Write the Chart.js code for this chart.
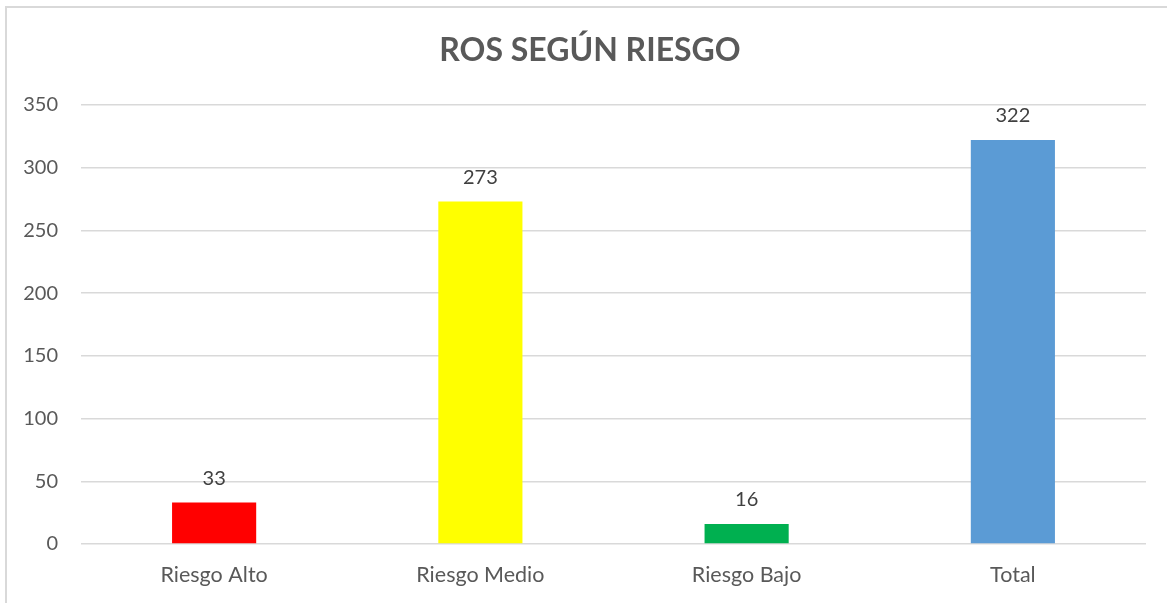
<!DOCTYPE html>
<html lang="es">
<head>
  <meta charset="UTF-8" />
  <title>ROS según riesgo</title>
  <script src="https://cdn.jsdelivr.net/npm/chart.js@4.4.0/dist/chart.umd.min.js"></script>
  <style>
    html, body { margin: 0; padding: 0; background: #fff; overflow: hidden; }
    .frame {
      position: absolute; left: 5px; top: 6px; width: 1200px; height: 700px;
      border-left: 2px solid #d9d9d9; border-top: 2px solid #d9d9d9;
    }
    .wrap { position: absolute; left: 0; top: 0; width: 1167px; height: 603px; }
  </style>
</head>
<body>
  <div class="frame"></div>
  <div class="wrap"><canvas id="chart" width="1167" height="603"></canvas></div>

  <script>
    const TITLE = 'ROS SEGÚN RIESGO';
    const categories = ['Riesgo Alto', 'Riesgo Medio', 'Riesgo Bajo', 'Total'];
    const values = [33, 273, 16, 322];
    const barColors = ['#ff0000', '#ffff00', '#00b050', '#5b9bd5'];
    const yTicks = [0, 50, 100, 150, 200, 250, 300, 350];

    const FONT = 'Lato, "Open Sans", sans-serif';

    // titulo y etiquetas de valor encima de cada barra
    const labelsPlugin = {
      id: 'labels',
      afterDatasetsDraw(chart) {
        const ctx = chart.ctx;
        ctx.save();
        ctx.fillStyle = '#595959';
        ctx.font = 'bold 32px ' + FONT;
        ctx.textAlign = 'center';
        ctx.textBaseline = 'alphabetic';
        ctx.fillText(TITLE, 590, 61);

        ctx.fillStyle = '#404040';
        ctx.font = '20px ' + FONT;
        const meta = chart.getDatasetMeta(0);
        meta.data.forEach((bar, i) => {
          ctx.fillText(String(values[i]), bar.x, bar.y - 18);
        });
        ctx.restore();
      }
    };

    new Chart(document.getElementById('chart'), {
      type: 'bar',
      data: {
        labels: categories,
        datasets: [{
          data: values,
          backgroundColor: barColors,
          borderWidth: 0,
          barPercentage: 0.316,
          categoryPercentage: 1
        }]
      },
      options: {
        responsive: false,
        animation: false,
        layout: { padding: { top: 105, right: 21, bottom: 0, left: 0 } },
        plugins: {
          legend: { display: false },
          title: { display: false },
          tooltip: { enabled: false }
        },
        scales: {
          x: {
            grid: { display: false, drawTicks: false },
            border: { display: false },
            ticks: { color: '#595959', font: { family: FONT, size: 21.5 }, padding: 18 },
            afterFit(scale) { scale.height = 59; }
          },
          y: {
            min: 0,
            max: 350,
            afterBuildTicks(scale) { scale.ticks = yTicks.map(v => ({ value: v })); },
            grid: { color: '#d9d9d9', lineWidth: 1.4, drawTicks: false },
            border: { display: false },
            ticks: { color: '#595959', font: { family: FONT, size: 20 }, padding: 23 },
            afterFit(scale) { scale.width = 81; }
          }
        }
      },
      plugins: [labelsPlugin]
    });
  </script>
</body>
</html>
